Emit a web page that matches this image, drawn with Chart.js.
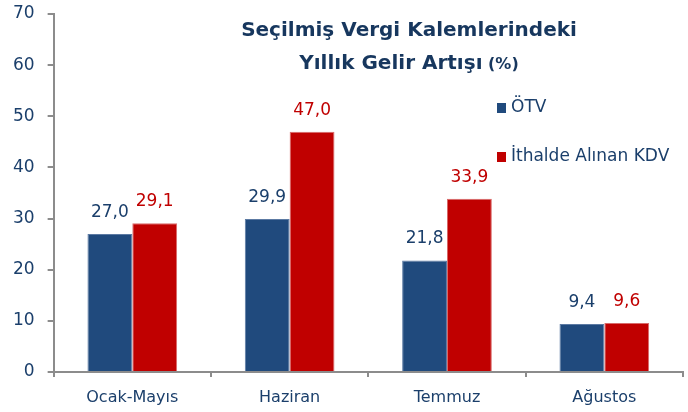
<!DOCTYPE html>
<html lang="tr">
<head>
  <meta charset="UTF-8">
  <title>Seçilmiş Vergi Kalemlerindeki Yıllık Gelir Artışı</title>
  <script src="https://cdn.jsdelivr.net/npm/chart.js"></script>
  <style>
    html, body { margin: 0; padding: 0; background: #fff; }
    #wrap { width: 688px; height: 412px; }
  </style>
</head>
<body>
  <div id="wrap"><canvas id="vergiChart"></canvas></div>
  <script>
    const categories = ['Ocak-Mayıs', 'Haziran', 'Temmuz', 'Ağustos'];
    const otv = [27.0, 29.9, 21.8, 9.4];
    const kdv = [29.1, 47.0, 33.9, 9.6];
    const yTicks = [0, 10, 20, 30, 40, 50, 60, 70];

    const FONT = '"DejaVu Sans", sans-serif';
    const NAVY = '#1B3F6B';
    const BLUE = '#204A7D';
    const RED = '#C00000';
    const fmt = v => v.toFixed(1).replace('.', ',');

    // value labels above each bar
    const barLabels = {
      id: 'barLabels',
      afterDatasetsDraw(chart) {
        const ctx = chart.ctx;
        ctx.save();
        ctx.font = '17px ' + FONT;
        ctx.textAlign = 'center';
        ctx.textBaseline = 'bottom';
        chart.data.datasets.forEach((ds, i) => {
          ctx.fillStyle = i === 0 ? NAVY : RED;
          chart.getDatasetMeta(i).data.forEach((bar, j) => {
            ctx.fillText(fmt(ds.data[j]), bar.x, bar.y - 13);
          });
        });
        ctx.restore();
      }
    };

    // title and legend drawn inside the plot area
    const overlay = {
      id: 'overlay',
      afterDraw(chart) {
        const ctx = chart.ctx;
        ctx.save();
        ctx.fillStyle = '#17375E';
        ctx.textBaseline = 'middle';
        ctx.textAlign = 'center';
        ctx.font = 'bold 20px ' + FONT;
        ctx.fillText('Seçilmiş Vergi Kalemlerindeki', 409, 31);
        const l1 = 'Yıllık Gelir Artışı';
        const l2 = ' (%)';
        const w1 = ctx.measureText(l1).width;
        ctx.font = 'bold 16px ' + FONT;
        const w2 = ctx.measureText(l2).width;
        const x0 = 409 - (w1 + w2) / 2;
        ctx.textAlign = 'left';
        ctx.font = 'bold 20px ' + FONT;
        ctx.fillText(l1, x0, 64);
        ctx.font = 'bold 16px ' + FONT;
        ctx.fillText(l2, x0 + w1, 65);

        ctx.font = '17px ' + FONT;
        chart.data.datasets.forEach((ds, i) => {
          const y = 108 + i * 49;
          ctx.fillStyle = ds.backgroundColor;
          ctx.fillRect(497, y - 5, 9, 10);
          ctx.fillStyle = NAVY;
          ctx.fillText(ds.label, 511, y);
        });
        ctx.restore();
      }
    };

    new Chart(document.getElementById('vergiChart'), {
      type: 'bar',
      data: {
        labels: categories,
        datasets: [
          { label: 'ÖTV', data: otv, backgroundColor: BLUE, borderColor: '#5C7AA3', borderWidth: 1 },
          { label: 'İthalde Alınan KDV', data: kdv, backgroundColor: RED, borderColor: '#D86A6A', borderWidth: 1 }
        ]
      },
      options: {
        responsive: true,
        maintainAspectRatio: false,
        animation: false,
        layout: { padding: { top: 0, right: 5, left: 0, bottom: 0 } },
        datasets: { bar: { categoryPercentage: 0.57, barPercentage: 1.0 } },
        plugins: {
          legend: { display: false },
          tooltip: { enabled: false }
        },
        scales: {
          x: {
            afterFit(axis) { axis.height = 40; axis.paddingBottom = 0; },
            grid: { display: true, drawOnChartArea: false, offset: true, tickLength: 5, color: '#8C8C8C', lineWidth: 2 },
            border: { color: '#8C8C8C', width: 2 },
            ticks: { color: NAVY, font: { family: FONT, size: 16 }, padding: 11 }
          },
          y: {
            min: 0,
            max: 70,
            afterBuildTicks(axis) { axis.ticks = yTicks.map(v => ({ value: v })); },
            afterFit(axis) { axis.paddingTop = 14; axis.paddingBottom = 0; },
            grid: { display: true, drawOnChartArea: false, tickLength: 6, color: '#8C8C8C', lineWidth: 2 },
            border: { color: '#8C8C8C', width: 2 },
            ticks: { color: NAVY, font: { family: FONT, size: 17 }, padding: 13 }
          }
        }
      },
      plugins: [barLabels, overlay]
    });
  </script>
</body>
</html>
